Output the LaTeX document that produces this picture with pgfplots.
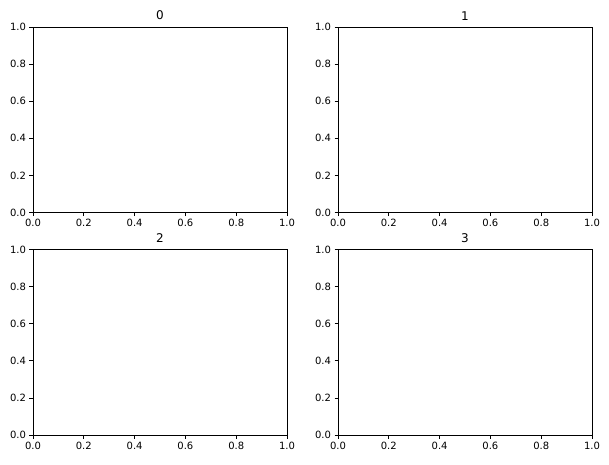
\documentclass[border=0pt]{standalone}
\usepackage{fontspec}
\setmainfont{DejaVu Sans}
\usepackage{pgfplots}
\pgfplotsset{compat=1.18}
\pgfplotsset{
  mpl/.style={
    scale only axis,
    anchor=south west,
    width=254pt, height=185.5pt,
    xmin=0, xmax=1, ymin=0, ymax=1,
    xtick={0,0.2,0.4,0.6,0.8,1.0},
    ytick={0,0.2,0.4,0.6,0.8,1.0},
    tick align=outside,
    major tick length=3.5pt,
    xtick pos=bottom, ytick pos=left,
    axis line style={line width=0.8pt, black},
    every tick/.style={line width=0.8pt, black},
    tick label style={font=\fontsize{10}{12}\selectfont, color=black},
    /pgf/number format/assume math mode=true,
    /pgf/number format/fixed, /pgf/number format/fixed zerofill,
    /pgf/number format/precision=1,
    title style={font=\fontsize{12}{14}\selectfont, inner sep=0pt, anchor=south, at={(0.5,1)}, yshift=0.7pt},
  }
}
\begin{document}
\begin{tikzpicture}[x=1pt,y=1pt]
\useasboundingbox (0,0) rectangle (609,464);
\begin{axis}[mpl, at={(33pt,251.5pt)}, title={0}]
\addplot[draw=none] coordinates {(0,0)};
\end{axis}
\begin{axis}[mpl, at={(338pt,251.5pt)}, title={1}]
\addplot[draw=none] coordinates {(0,0)};
\end{axis}
\begin{axis}[mpl, at={(33pt,29pt)}, title={2}]
\addplot[draw=none] coordinates {(0,0)};
\end{axis}
\begin{axis}[mpl, at={(338pt,29pt)}, title={3}]
\addplot[draw=none] coordinates {(0,0)};
\end{axis}
\end{tikzpicture}
\end{document}
